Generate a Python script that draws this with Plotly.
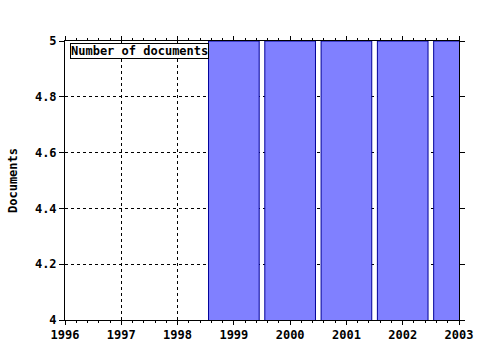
import plotly.graph_objects as go

years = [1999, 2000, 2001, 2002, 2003]
documents = [5, 5, 5, 5, 5]
series_name = "Number of documents"
y_title = "Documents"

bold = dict(family="DejaVu Sans Mono", size=11, color="black", weight="bold")
bold12 = dict(family="DejaVu Sans Mono", size=12, color="black", weight="bold")

fig = go.Figure()
fig.add_trace(go.Bar(
    x=years, y=documents, width=0.9, name=series_name,
    marker=dict(color="#8080ff", line=dict(color="#000099", width=1)),
    showlegend=False,
))

fig.add_annotation(
    text=series_name, xref="paper", yref="paper", x=0.013, y=0.993,
    xanchor="left", yanchor="top", showarrow=False,
    bgcolor="white", bordercolor="black", borderwidth=1, borderpad=0,
    font=bold12,
)

fig.update_layout(
    width=480, height=350,
    margin=dict(l=65, r=21, t=41, b=30),
    paper_bgcolor="white", plot_bgcolor="white",
    font=bold,
)
fig.update_xaxes(
    range=[1996, 2003], dtick=1, tick0=1996, automargin=False,
    showline=True, linecolor="black", linewidth=1, mirror="ticks",
    ticks="outside", ticklen=4, tickcolor="black",
    showgrid=True, gridcolor="black", griddash="dot", gridwidth=1,
    tickfont=bold12,
    minor=dict(dtick=0.2, ticks="outside", ticklen=2, tickcolor="black", showgrid=False),
    zeroline=False,
)
fig.update_yaxes(
    range=[4, 5], dtick=0.2, automargin=False,
    showline=True, linecolor="black", linewidth=1, mirror="ticks",
    ticks="outside", ticklen=5, tickcolor="black",
    showgrid=True, gridcolor="black", griddash="dot", gridwidth=1,
    tickfont=bold12,
    title=dict(text=y_title, font=bold12, standoff=14),
    zeroline=False,
)
fig.write_html("out.html")
